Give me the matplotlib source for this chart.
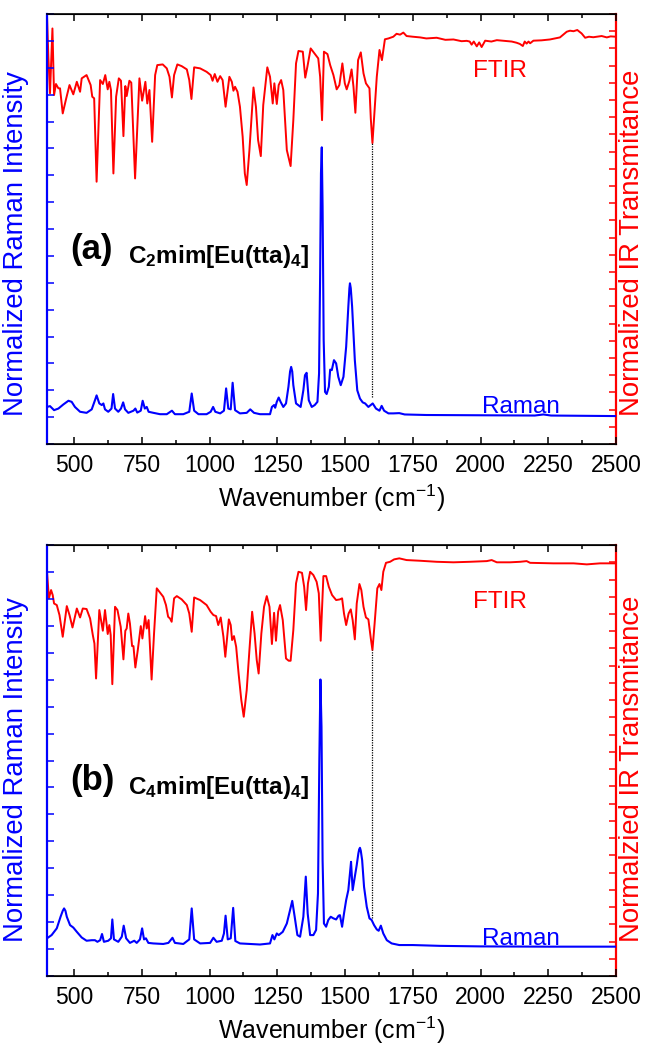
import matplotlib
matplotlib.use("Agg")
import matplotlib.pyplot as plt
from matplotlib.ticker import MultipleLocator, NullFormatter

plt.rcParams['font.family'] = ['Liberation Sans', 'DejaVu Sans']
plt.rcParams['mathtext.fontset'] = 'custom'
plt.rcParams['mathtext.rm'] = 'Liberation Sans'
plt.rcParams['mathtext.bf'] = 'Liberation Sans:bold'

# ---- panel (a): C2mim[Eu(tta)4] ----
ftir_a_wn = [400, 405, 411, 420, 426, 433, 442, 448, 458, 470, 483, 497, 510, 522, 528, 546, 561, 567, 574,
             583, 596, 606, 615, 624, 630, 636, 645, 655, 665, 673, 682, 689, 694, 704, 711, 725, 741, 751,
             763, 770, 778, 788, 799, 807, 827, 842, 852, 861, 869, 881, 897, 916, 925, 933, 943, 965, 989,
             1004, 1011, 1019, 1029, 1039, 1048, 1059, 1073, 1082, 1088, 1094, 1103, 1112, 1122, 1130, 1137,
             1147, 1162, 1171, 1179, 1189, 1198, 1213, 1223, 1233, 1239, 1248, 1255, 1264, 1272, 1285, 1299,
             1309, 1319, 1328, 1344, 1353, 1361, 1373, 1385, 1401, 1408, 1415, 1422, 1435, 1445, 1457, 1469,
             1479, 1490, 1499, 1506, 1516, 1524, 1531, 1538, 1548, 1558, 1568, 1577, 1590, 1595, 1601, 1617,
             1627, 1636, 1647, 1660, 1678, 1690, 1703, 1715, 1727, 1750, 1777, 1800, 1838, 1870, 1900, 1930,
             1949, 1960, 1967, 1975, 1986, 1995, 2004, 2017, 2040, 2060, 2080, 2097, 2115, 2133, 2145, 2156,
             2163, 2170, 2177, 2183, 2195, 2225, 2256, 2293, 2318, 2330, 2343, 2357, 2373, 2386, 2400, 2416,
             2447, 2466, 2480, 2500]
ftir_a_val = [24.9, 22.5, 20.39, 24.16, 20.29, 20.93, 20.68, 20.68, 19.22, 20.04, 20.87, 20.33, 21.06, 20.48,
              21.26, 21.45, 20.87, 20.19, 20.10, 15.25, 21.16, 20.93, 21.45, 20.62, 21.06, 20.58, 15.73, 20.19,
              21.26, 21.12, 17.90, 20.81, 20.23, 21.12, 21.01, 15.44, 21.26, 19.96, 21.06, 19.80, 20.58, 17.57,
              21.45, 22.03, 22.07, 21.84, 21.35, 20.15, 21.45, 22.07, 21.97, 21.78, 21.16, 20.06, 21.90, 21.84,
              21.64, 21.45, 21.12, 21.51, 21.06, 21.39, 21.16, 19.61, 21.35, 21.06, 20.54, 20.77, 20.48, 19.61,
              17.87, 15.73, 15.06, 17.09, 20.73, 19.61, 17.67, 16.74, 19.71, 21.90, 21.35, 19.80, 20.97, 19.77,
              20.87, 21.16, 20.58, 17.09, 16.16, 18.83, 22.13, 22.85, 22.81, 21.30, 21.94, 23.00, 22.75, 22.42,
              21.35, 18.83, 22.81, 22.67, 22.03, 21.45, 20.62, 20.87, 22.13, 20.97, 20.62, 21.12, 21.78, 20.77,
              19.26, 22.32, 22.77, 21.55, 20.97, 20.68, 18.9, 17.5, 21.35, 22.91, 22.32, 23.53, 23.58, 23.68,
              23.85, 23.80, 23.92, 23.72, 23.68, 23.64, 23.58, 23.62, 23.50, 23.52, 23.42, 23.44, 23.40, 23.22,
              23.40, 23.12, 23.35, 23.08, 23.45, 23.40, 23.48, 23.45, 23.42, 23.40, 23.33, 23.26, 23.14, 23.40,
              23.28, 23.40, 23.30, 23.45, 23.47, 23.52, 23.64, 23.97, 24.03, 24.00, 24.07, 23.87, 23.62, 23.68,
              23.65, 23.72, 23.64, 23.70, 23.68]

raman_a_wn = [400, 411, 426, 442, 460, 479, 491, 503, 522, 546, 565, 577, 583, 593, 602, 608, 614, 626, 638,
              644, 651, 663, 673, 681, 688, 700, 719, 726, 733, 746, 753, 761, 768, 775, 793, 817, 842, 861,
              872, 903, 925, 934, 943, 959, 989, 1004, 1013, 1021, 1039, 1053, 1061, 1069, 1078, 1085, 1094,
              1112, 1137, 1150, 1164, 1186, 1223, 1230, 1238, 1242, 1248, 1255, 1262, 1272, 1282, 1291, 1297,
              1301, 1305, 1309, 1319, 1336, 1346, 1352, 1358, 1366, 1377, 1388, 1398, 1404, 1408, 1411, 1414,
              1417, 1421, 1426, 1432, 1440, 1445, 1451, 1459, 1467, 1475, 1484, 1494, 1504, 1512, 1516, 1518,
              1521, 1526, 1536, 1545, 1555, 1565, 1574, 1586, 1602, 1614, 1627, 1635, 1644, 1660, 1678, 1700,
              1720, 1800, 2000, 2200, 2232, 2260, 2500]
raman_a_val = [1.38, 1.41, 1.26, 1.32, 1.47, 1.61, 1.57, 1.38, 1.20, 1.16, 1.29, 1.63, 1.81, 1.51, 1.45, 1.51,
               1.29, 1.20, 1.32, 1.86, 1.32, 1.20, 1.32, 1.55, 1.29, 1.16, 1.24, 1.32, 1.17, 1.24, 1.61, 1.32,
               1.38, 1.20, 1.16, 1.11, 1.11, 1.24, 1.11, 1.11, 1.20, 1.88, 1.24, 1.11, 1.11, 1.20, 1.38, 1.20,
               1.14, 1.24, 2.07, 1.32, 1.29, 2.28, 1.26, 1.14, 1.16, 1.29, 1.16, 1.11, 1.11, 1.38, 1.45, 1.35,
               1.57, 1.73, 1.57, 1.38, 1.51, 2.13, 2.70, 2.87, 2.70, 2.19, 1.51, 1.38, 2.00, 2.56, 2.65, 1.63,
               1.38, 1.45, 1.57, 2.63, 6.35, 10.07, 11.04, 8.83, 3.87, 1.94, 1.86, 2.13, 2.77, 2.75, 3.12, 3.00,
               2.50, 2.19, 2.50, 3.62, 5.11, 5.80, 5.98, 5.80, 5.11, 3.12, 2.00, 1.69, 1.55, 1.51, 1.38, 1.51,
               1.32, 1.24, 1.42, 1.24, 1.14, 1.14, 1.15, 1.10, 1.08, 1.07, 1.06, 1.10, 1.06, 1.04]

# ---- panel (b): C4mim[Eu(tta)4] ----
ftir_b_wn = [400, 407, 415, 421, 426, 436, 446, 458, 473, 483, 494, 510, 522, 532, 546, 559, 569, 575, 581,
             593, 606, 614, 624, 630, 635, 641, 651, 660, 672, 682, 689, 694, 700, 706, 714, 719, 726, 735,
             746, 752, 762, 768, 775, 786, 795, 805, 815, 829, 839, 847, 854, 860, 869, 879, 897, 916, 925,
             934, 943, 965, 989, 1004, 1014, 1024, 1032, 1041, 1051, 1058, 1071, 1078, 1083, 1090, 1098, 1107,
             1117, 1126, 1137, 1147, 1157, 1166, 1174, 1181, 1191, 1201, 1211, 1221, 1230, 1238, 1245, 1253,
             1260, 1270, 1282, 1292, 1299, 1309, 1319, 1328, 1341, 1349, 1356, 1363, 1371, 1383, 1395, 1403,
             1410, 1420, 1430, 1440, 1452, 1467, 1481, 1489, 1496, 1504, 1513, 1521, 1528, 1536, 1543, 1553,
             1560, 1568, 1577, 1586, 1595, 1601, 1609, 1619, 1627, 1634, 1641, 1651, 1666, 1681, 1700, 1727,
             1777, 1838, 1900, 1961, 2023, 2041, 2060, 2109, 2146, 2170, 2183, 2269, 2343, 2392, 2441, 2500]
ftir_b_val = [23.45, 21.91, 22.39, 22.10, 21.61, 21.52, 20.94, 19.68, 21.46, 20.94, 20.22, 21.32, 20.80, 21.32,
              21.29, 20.74, 19.78, 19.29, 17.26, 21.23, 20.03, 21.23, 19.84, 20.36, 19.78, 16.93, 21.42, 21.23,
              20.26, 18.37, 20.03, 20.16, 21.03, 20.45, 19.14, 19.14, 17.90, 18.91, 20.30, 19.58, 20.88, 20.16,
              20.65, 17.20, 19.87, 22.49, 22.29, 22.00, 21.52, 20.84, 20.74, 20.55, 21.91, 22.04, 21.85, 21.52,
              21.03, 19.97, 21.96, 21.81, 21.52, 21.13, 20.94, 20.88, 20.36, 20.80, 19.68, 18.52, 20.69, 20.36,
              19.49, 19.72, 19.10, 17.55, 16.01, 15.04, 16.59, 18.91, 21.13, 19.87, 18.33, 17.55, 19.87, 21.42,
              22.04, 21.42, 19.26, 21.07, 19.45, 21.13, 21.52, 20.65, 18.42, 18.29, 18.29, 20.07, 22.78, 23.45,
              23.39, 22.58, 21.23, 22.78, 23.45, 23.26, 22.87, 22.20, 19.45, 23.20, 23.20, 22.58, 22.10, 21.81,
              21.85, 21.91, 21.03, 20.36, 21.03, 21.27, 20.65, 19.53, 21.61, 22.74, 22.39, 21.42, 20.80, 20.69,
              19.58, 18.91, 20.45, 22.49, 22.74, 22.39, 23.45, 23.97, 24.03, 24.17, 24.23, 24.13, 24.09, 24.03,
              24.00, 24.03, 24.07, 24.13, 24.00, 24.00, 24.03, 24.07, 23.97, 23.94, 23.94, 23.88, 23.94, 23.94]

raman_b_wn = [400, 417, 436, 450, 458, 463, 468, 473, 485, 497, 510, 528, 546, 565, 577, 586, 596, 603, 610,
              626, 636, 641, 647, 663, 676, 683, 692, 706, 722, 731, 743, 751, 758, 765, 774, 792, 829, 848,
              863, 872, 903, 925, 934, 943, 965, 1002, 1014, 1026, 1045, 1053, 1059, 1067, 1078, 1087, 1095,
              1112, 1149, 1186, 1223, 1232, 1239, 1248, 1255, 1270, 1285, 1297, 1305, 1314, 1324, 1334, 1346,
              1355, 1362, 1371, 1383, 1393, 1400, 1405, 1409, 1413, 1417, 1422, 1430, 1438, 1447, 1457, 1467,
              1476, 1481, 1489, 1496, 1504, 1512, 1518, 1522, 1528, 1536, 1543, 1549, 1552, 1555, 1558, 1563,
              1570, 1580, 1590, 1598, 1607, 1617, 1624, 1632, 1641, 1654, 1672, 1700, 1750, 1850, 2000, 2250,
              2500]
raman_b_val = [1.40, 1.52, 1.77, 2.20, 2.42, 2.51, 2.42, 2.20, 1.89, 1.80, 1.64, 1.43, 1.31, 1.33, 1.33, 1.27,
               1.33, 1.56, 1.27, 1.31, 1.40, 2.10, 1.36, 1.27, 1.46, 1.87, 1.40, 1.23, 1.31, 1.23, 1.36, 1.77,
               1.36, 1.40, 1.23, 1.21, 1.19, 1.23, 1.42, 1.23, 1.19, 1.36, 2.51, 1.36, 1.21, 1.23, 1.42, 1.27,
               1.31, 1.58, 2.24, 1.36, 1.40, 2.53, 1.30, 1.21, 1.19, 1.17, 1.21, 1.52, 1.36, 1.58, 1.52, 1.64,
               1.95, 2.45, 2.79, 2.20, 1.52, 1.46, 2.20, 3.69, 2.32, 1.52, 1.52, 1.71, 3.07, 8.02, 11.01, 9.25,
               4.30, 1.95, 1.83, 2.08, 2.20, 2.14, 2.10, 2.24, 2.26, 1.83, 2.32, 2.82, 3.19, 3.81, 4.24, 3.19,
               3.69, 4.12, 4.55, 4.70, 4.76, 4.65, 4.30, 3.31, 2.57, 2.14, 2.08, 1.89, 1.73, 1.68, 1.87, 1.58,
               1.33, 1.21, 1.15, 1.15, 1.12, 1.10, 1.09, 1.09]

guide_x = 1600
guide_a = (1.75, 11.2)   # in Raman-axis units
guide_b = (2.15, 12.1)

panel_tags = ['(a)', '(b)']
compounds = [r'$\mathbf{C_2mim[Eu(tta)_4]}$', r'$\mathbf{C_4mim[Eu(tta)_4]}$']
ir_labels = ['Normalized IR Transmitance', 'Normalzied IR Transmitance']

BLUE = '#0000FF'
RED = '#FF0000'
FS_TICK = 16.5
FS_LAB = 18
FS_YLAB = 19.8
FS_TXT = 17.5


def draw_panel(ax, raman_wn, raman_val, ftir_wn, ftir_val, guide, tag, compound, ir_label, ylab_y):
    ax2 = ax.twinx()
    ax.plot(raman_wn, raman_val, color=BLUE, lw=1.5, zorder=3)
    ax2.plot(ftir_wn, ftir_val, color=RED, lw=1.4)
    ax.plot([guide_x, guide_x], guide, color='black', lw=0.9, ls=(0, (1, 1)), zorder=2)

    ax.set_xlim(400, 2500)
    ax.set_ylim(0, 16)
    ax2.set_ylim(0, 25)
    ax.set_zorder(ax2.get_zorder() + 1)
    ax.patch.set_visible(False)

    ax.xaxis.set_major_locator(MultipleLocator(250))
    ax.xaxis.set_minor_locator(MultipleLocator(125))
    ax.yaxis.set_major_locator(MultipleLocator(1))
    ax.yaxis.set_major_formatter(NullFormatter())
    ax2.yaxis.set_major_locator(MultipleLocator(1))
    ax2.yaxis.set_major_formatter(NullFormatter())

    ax.tick_params(axis='x', which='major', direction='in', length=5, width=1.1,
                   top=True, labelsize=FS_TICK, pad=7)
    ax.tick_params(axis='x', which='minor', direction='in', length=3, width=1.1, top=True)
    ax.tick_params(axis='y', which='major', direction='in', length=5, width=1.1, color=BLUE)
    ax2.tick_params(axis='y', which='major', direction='in', length=5, width=1.1, color=RED)

    for s in ['top', 'bottom']:
        ax.spines[s].set_linewidth(1.2)
    ax.spines['left'].set_color(BLUE)
    ax.spines['left'].set_linewidth(1.6)
    ax2.spines['right'].set_color(RED)
    ax2.spines['right'].set_linewidth(1.6)
    ax2.spines['left'].set_visible(False)
    ax.spines['right'].set_visible(False)

    ax.set_xlabel('Wavenumber (cm$^{-1}$)', fontsize=FS_LAB, labelpad=4)
    ax.set_ylabel('Normalized Raman Intensity', fontsize=FS_YLAB, color=BLUE)
    ax.yaxis.set_label_coords(-0.031, ylab_y)
    ax2.set_ylabel(ir_label, fontsize=FS_YLAB, color=RED)
    ax2.yaxis.set_label_coords(1.005, ylab_y)

    ax.text(485, 6.9, tag, fontsize=25, fontweight='bold', ha='left', va='baseline')
    ax.text(699, 6.75, compound, fontsize=FS_TXT, ha='left', va='baseline')
    ax2.text(2072, 21.35, 'FTIR', fontsize=FS_TXT, color=RED, ha='center', va='baseline')
    ax.text(2149, 1.17, 'Raman', fontsize=FS_TXT, color=BLUE, ha='center', va='baseline')


fig = plt.figure(figsize=(6.53, 10.46), dpi=100)
ax_a = fig.add_axes([0.072, 0.5755, 0.8714, 0.4111])
ax_b = fig.add_axes([0.072, 0.0669, 0.8714, 0.412])

draw_panel(ax_a, raman_a_wn, raman_a_val, ftir_a_wn, ftir_a_val, guide_a,
           panel_tags[0], compounds[0], ir_labels[0], 0.467)
draw_panel(ax_b, raman_b_wn, raman_b_val, ftir_b_wn, ftir_b_val, guide_b,
           panel_tags[1], compounds[1], ir_labels[1], 0.48)

fig.savefig('out.png', dpi=100)
